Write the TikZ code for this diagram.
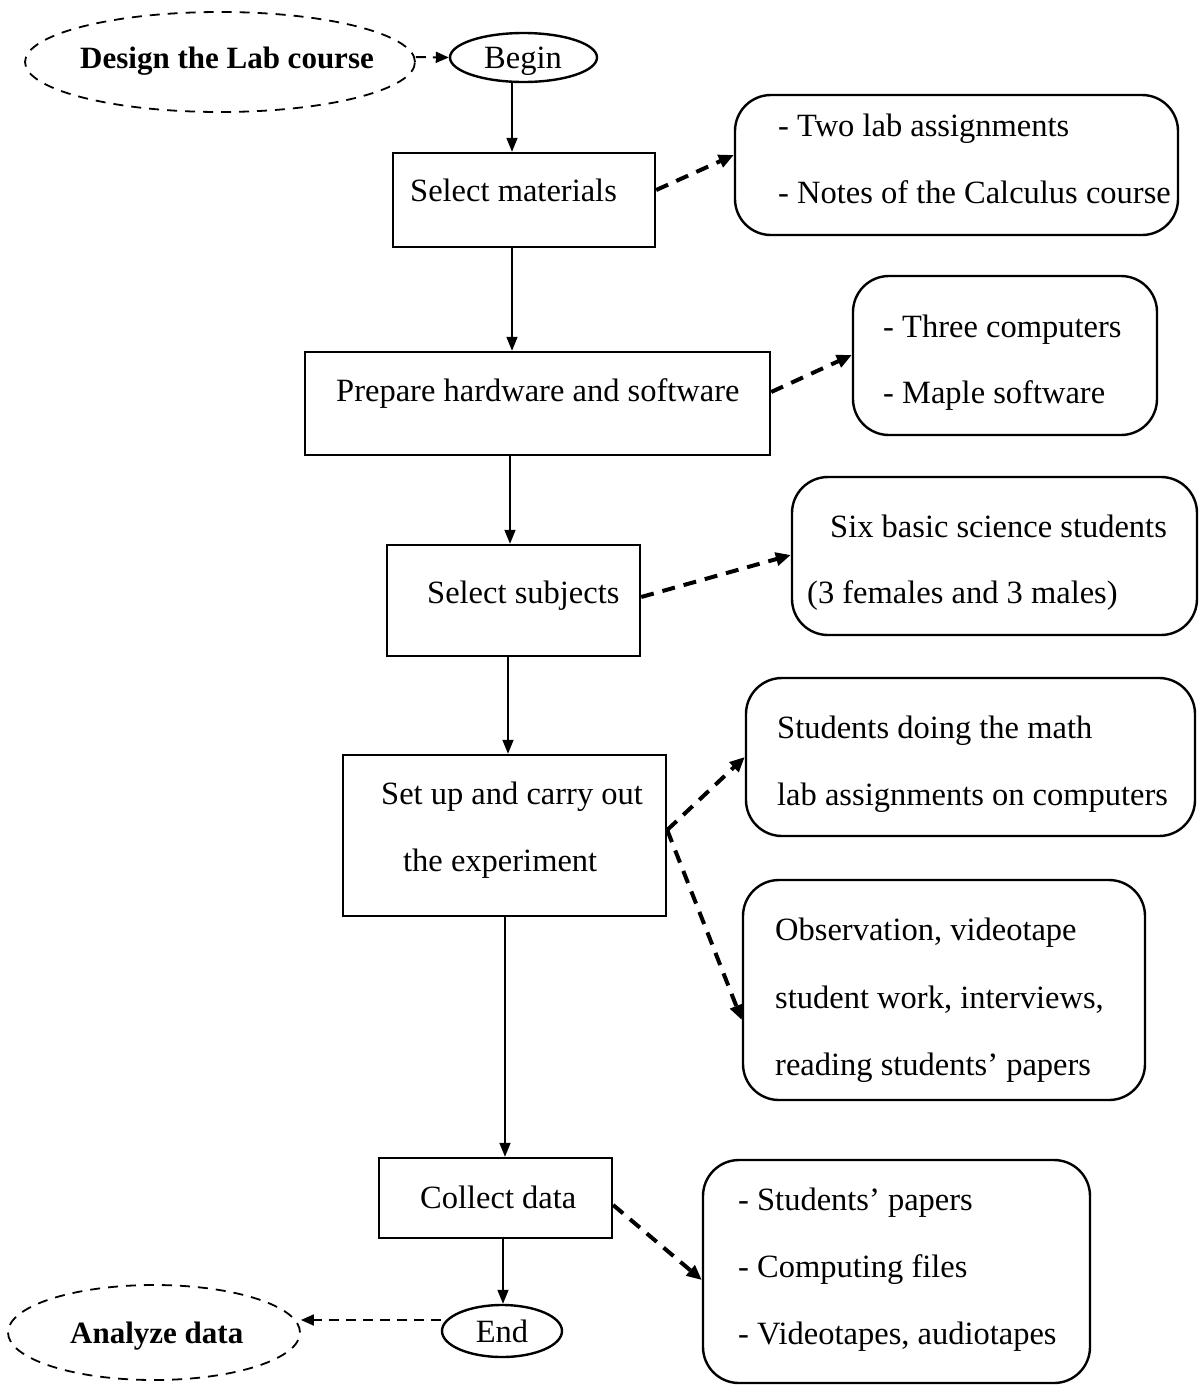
\documentclass[tikz,border=0pt]{standalone}
\usepackage{fontspec}
\setmainfont{Liberation Serif}
\usetikzlibrary{arrows.meta,shapes.geometric}
\begin{document}
\begin{tikzpicture}[x=1pt,y=-1pt,
  font=\fontsize{32.5}{40}\selectfont,
  box/.style={draw,line width=2.4pt,rectangle,inner sep=0pt},
  rbox/.style={draw,line width=2.4pt,rectangle,rounded corners=36pt,inner sep=0pt},
  ell/.style={draw,line width=2.4pt,ellipse,inner sep=0pt},
  dell/.style={draw,line width=1.8pt,ellipse,dash pattern=on 10pt off 8pt,inner sep=0pt},
  txt/.style={anchor=west,inner sep=0pt,text height=22pt,text depth=0pt},
  ctxt/.style={anchor=center,inner sep=0pt,text height=22pt,text depth=0pt},
  bold/.style={font=\fontsize{31}{38}\selectfont\bfseries},
  flow/.style={line width=1.6pt,-{Triangle[length=14pt,width=11pt]}},
  dflow/.style={line width=4pt,dash pattern=on 13pt off 9pt,-{Triangle[length=15pt,width=13pt]}},
  thinflow/.style={line width=2pt,dash pattern=on 10pt off 7pt,-{Triangle[length=13pt,width=11pt]}}
]
\useasboundingbox (0,0) rectangle (1199,1385);

% shapes
\node[dell,minimum width=390pt,minimum height=100pt] (design) at (220,62) {};
\node[ell,minimum width=147pt,minimum height=49pt] (begin) at (523.5,57.5) {};
\node[box,minimum width=262pt,minimum height=94pt] (sm) at (524,200) {};
\node[box,minimum width=465pt,minimum height=103pt] (ph) at (537.5,403.5) {};
\node[box,minimum width=253pt,minimum height=111pt] (ss) at (513.5,600.5) {};
\node[box,minimum width=323pt,minimum height=161pt] (su) at (504.5,835.5) {};
\node[box,minimum width=233pt,minimum height=80pt] (cd) at (495.5,1198) {};
\node[ell,minimum width=120pt,minimum height=52pt] (end) at (502,1331) {};
\node[dell,minimum width=292pt,minimum height=95pt] (analyze) at (154,1332.5) {};
\node[rbox,minimum width=443pt,minimum height=140pt] (r1) at (956.5,165) {};
\node[rbox,minimum width=304pt,minimum height=159pt] (r2) at (1005,355.5) {};
\node[rbox,minimum width=405pt,minimum height=158pt] (r3) at (994.5,556) {};
\node[rbox,minimum width=449pt,minimum height=158pt] (r4) at (970.5,757) {};
\node[rbox,minimum width=402pt,minimum height=220pt] (r5) at (944,990) {};
\node[rbox,minimum width=387pt,minimum height=223pt] (r6) at (896.5,1271.5) {};

% texts
\node[txt,bold] (t0) at (80,57) {Design the Lab course};
\node[ctxt] (t1) at (523,57) {Begin};
\node[txt] (t2) at (410,190) {Select materials};
\node[txt] (t3) at (778,125) {- Two lab assignments};
\node[txt] (t4) at (778,192) {- Notes of the Calculus course};
\node[txt] (t5) at (336,390) {Prepare hardware and software};
\node[txt] (t6) at (883,326) {- Three computers};
\node[txt] (t7) at (883,392) {- Maple software};
\node[txt] (t8) at (427,592) {Select subjects};
\node[txt] (t9) at (830,526) {Six basic science students};
\node[txt] (t10) at (807,592) {(3 females and 3 males)};
\node[txt] (t11) at (381,793) {Set up and carry out};
\node[txt] (t12) at (403,860) {the experiment};
\node[txt] (t13) at (777,727) {Students doing the math};
\node[txt] (t14) at (777,794) {lab assignments on computers};
\node[txt] (t15) at (775,929) {Observation, videotape};
\node[txt] (t16) at (775,997) {student work, interviews,};
\node[txt] (t17) at (775,1064) {reading students’ papers};
\node[txt] (t18) at (420,1197) {Collect data};
\node[txt] (t19) at (738,1199) {- Students’ papers};
\node[txt] (t20) at (738,1266) {- Computing files};
\node[txt] (t21) at (738,1333) {- Videotapes, audiotapes};
\node[ctxt] (t22) at (502,1331) {End};
\node[txt,bold] (t23) at (70,1332) {Analyze data};

% main flow
\draw[thinflow] (design.east |- 0,57) -- (begin.west);
\draw[flow] (begin.south -| 512,0) -- (sm.north -| 512,0);
\draw[flow] (sm.south -| 512,0) -- (ph.north -| 512,0);
\draw[flow] (ph.south -| 510,0) -- (ss.north -| 510,0);
\draw[flow] (ss.south -| 508,0) -- (su.north -| 508,0);
\draw[flow] (su.south -| 505,0) -- (cd.north -| 505,0);
\draw[flow] (cd.south -| 503,0) -- (end.north -| 503,0);
\draw[thinflow] (end.west |- 0,1320) -- (analyze.east |- 0,1320);

% side links
\draw[dflow] (sm.east |- 0,190) -- (r1.west |- 0,155);
\draw[dflow] (ph.east |- 0,392) -- (r2.west |- 0,355);
\draw[dflow] (ss.east |- 0,597) -- (r3.west |- 0,555);
\draw[dflow] (su.east |- 0,830) -- (r4.west |- 0,757);
\draw[dflow] (su.east |- 0,830) -- (r5.west |- 0,1020);
\draw[dflow] (cd.east |- 0,1205) -- (r6.west |- 0,1280);
\end{tikzpicture}
\end{document}
